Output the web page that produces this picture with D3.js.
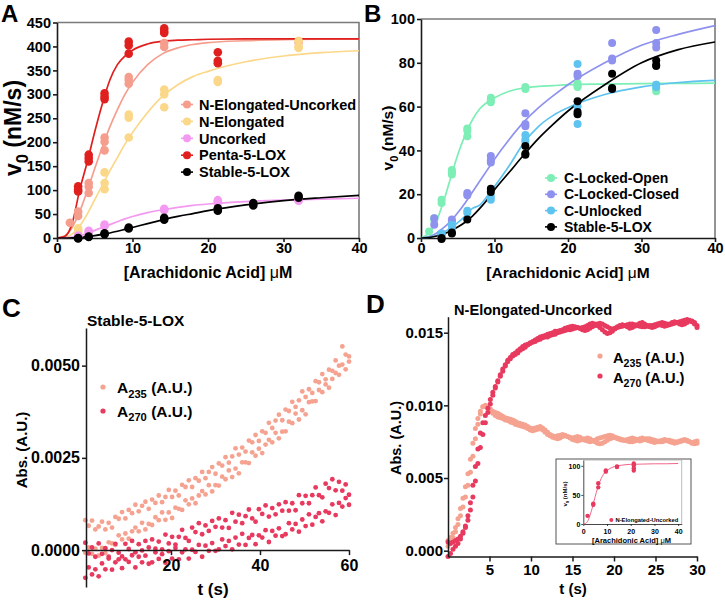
<!DOCTYPE html>
<html>
<head>
<meta charset="utf-8">
<script src="https://cdn.jsdelivr.net/npm/d3@7"></script>
<style>
body { margin: 0; background: #fff; }
</style>
</head>
<body>
<div id="fig"></div>
<script>
/*
Four panel enzyme kinetics figure: saturation curves (A, B)
and stopped-flow absorbance traces (C, D, inset)
*/

// ---------- data ----------
// substrate grid on which the fitted curves were read
var curveX = [0, 1, 2, 3, 4, 5, 6, 7, 8, 9, 10, 12, 14, 16, 18, 20, 25, 30, 35, 40];

// panel A, v0 (nM/s)
var aNames = ["N-Elongated-Uncorked", "N-Elongated", "Uncorked", "Penta-5-LOX", "Stable-5-LOX"];
var aColors = ["#f69e8d", "#fbd889", "#f499f1", "#e0201e", "#000000"];
var fitNEU = [0, 4, 22, 55, 98, 145, 190, 232, 268, 300, 325, 362, 385, 397, 404, 408, 412, 414, 415, 415];
var fitNE = [0, 1, 8, 25, 50, 80, 110, 140, 168, 196, 220, 262, 296, 320, 337, 348, 368, 380, 387, 391];
var fitUnc = [0, 0.5, 2, 5, 10, 16, 22, 28, 34, 40, 45, 53, 59, 64, 68, 71, 76, 79, 81, 83];
var fitPenta = [0, 3, 30, 100, 158, 222, 280, 330, 362, 380, 392, 405, 411, 413, 414, 415, 416, 416, 416, 416];
var fitStableA = [0, 0, 0.5, 1.5, 3, 5, 7.5, 10.5, 14, 18, 22, 30, 38, 45, 51, 57, 69, 78, 84, 89];
var ptsNEU = [[1.7,32],[2.8,55],[2.8,46],[4.2,115],[4.2,107],[4.2,94],[6.3,210],[6.3,201],[6.3,183],
  [9.5,336],[9.5,330],[9.5,322],[14.2,407],[14.2,399],[32,408]];
var ptsNE = [[2.8,20],[2.8,15],[2.8,12],[6.3,137],[6.3,115],[6.3,102],[9.5,258],[9.5,251],[9.5,210],
  [14.2,310],[14.2,300],[14.2,273],[21.3,330],[21.3,326],[32,412],[32,400],[32,397]];
var ptsUnc = [[2.8,5],[2.8,3],[4.2,15],[4.2,12],[6.3,28],[6.3,25],[14.2,61],[14.2,58],
  [21.3,79],[21.3,74],[32,81],[32,78]];
var ptsPenta = [[2.8,108],[2.8,101],[2.8,97],[4.2,174],[4.2,167],[4.2,160],[6.3,302],[6.3,295],[6.3,290],
  [9.5,410],[9.5,402],[9.5,385],[14.2,438],[14.2,432],[14.2,428],[21.3,388],[21.3,370],[21.3,365]];
var ptsStableA = [[2.8,0],[2.8,-1],[4.2,3],[4.2,2],[6.3,10],[6.3,8],[9.5,22],[9.5,20],[14.2,42],[14.2,38],
  [21.3,62],[21.3,57],[26,73],[26,68],[32,88],[32,84]];

// panel B, v0 (nM/s)
var bNames = ["C-Locked-Open", "C-Locked-Closed", "C-Unlocked", "Stable-5-LOX"];
var bColors = ["#7deeb5", "#8e92ee", "#5fc3f0", "#000000"];
var fitCLO = [0, 2, 7, 16, 27, 38, 47, 54, 59, 62, 64, 67, 68.5, 69.2, 69.6, 70, 70.3, 70.5, 70.6, 70.7];
var fitCLC = [0, 0.5, 2, 4.5, 7.5, 11.5, 16, 21, 26, 31, 36, 45, 53, 59.5, 65, 70, 80, 88, 93, 97];
var fitCU = [0, 0.3, 1, 2.5, 4.5, 7, 10, 13.5, 15, 19, 23.5, 33, 43.5, 51, 56, 59.5, 65.5, 69, 71, 72];
var fitStableB = [0, 0.2, 0.8, 1.8, 3.2, 5, 7.2, 10, 13.5, 17.5, 22, 30, 38, 45.5, 52, 58, 70, 80, 86, 89.5];
var ptsCLO = [[1.1,3],[1.8,9],[1.8,8],[2.8,17.5],[2.8,16],[4.2,31],[4.2,30],[4.2,29],[6.3,50],[6.3,49],[6.3,46.5],
  [9.5,64],[9.5,63],[9.5,62],[14.2,69],[14.2,68],[21.3,70.5],[21.3,69.5],[21.3,69],[32,70],[32,68],[32,67]];
var ptsCLC = [[1.8,9],[1.8,6],[2.8,2],[2.8,1.5],[4.2,8.5],[4.2,7.5],[6.3,20.5],[6.3,19.5],[9.5,37.5],[9.5,35.5],[9.5,34.5],
  [14.2,57],[14.2,52],[14.2,51],[21.3,75],[21.3,74],[26,89],[26,82],[26,81],[32,95],[32,89],[32,87]];
var ptsCU = [[2.8,2],[4.2,6],[4.2,5],[6.3,12.5],[6.3,11.5],[9.5,19],[9.5,17.5],[14.2,47],[14.2,45],[14.2,44],
  [21.3,79.5],[21.3,60],[21.3,52],[32,70],[32,69]];
var ptsStableB = [[2.8,0],[2.8,-0.5],[4.2,2.5],[4.2,2],[6.3,8.5],[9.5,22.5],[9.5,21],[14.2,42],[14.2,38.5],[14.2,38],
  [21.3,62.5],[21.3,57.5],[21.3,56.5],[26,75],[26,68.5],[26,68],[32,81],[32,79],[32,78.5]];

// panel C, Stable-5-LOX, absorbance in milli-AU, sampled every 0.75 s from 0.75 s
var C_T0 = 0.75, C_DT = 0.75;
var cA235a = [0.81,0.66,0.80,0.56,0.64,0.77,0.56,0.74,0.61,0.90, 0.85,1.03,0.86,1.09,1.00,1.23,1.05,1.20,1.31,1.12,
  1.37,1.28,1.48,1.30,1.44,1.63,1.44,1.61,1.48,1.77, 1.71,1.89,1.71,1.95,1.88,2.12,1.95,2.12,2.25,2.07,
  2.35,2.29,2.52,2.37,2.54,2.76,2.59,2.78,2.67,2.97, 2.92,3.12,2.96,3.22,3.18,3.45,3.31,3.51,3.67,3.52,
  3.81,3.77,4.02,3.88,4.06,4.30,4.15,4.36,4.26,4.58, 4.55,4.77,4.63,4.89,4.86,5.14,5.00,5.52,5.30,5.25];
var cA235b = [-0.07,0.07,-0.10,0.04,-0.15,0.06,-0.08,0.21,0.18,0.14, 0.40,0.29,0.45,0.31,0.51,0.61,0.51,0.74,0.56,0.71,
  0.68,0.89,0.81,1.02,0.82,1.02,0.87,1.15,1.12,1.09, 1.35,1.24,1.40,1.27,1.48,1.60,1.51,1.76,1.59,1.76,
  1.75,1.99,1.92,2.16,1.98,2.21,2.08,2.38,2.38,2.36, 2.65,2.56,2.75,2.63,2.86,2.99,2.92,3.18,3.03,3.21,
  3.22,3.48,3.44,3.70,3.54,3.79,3.68,4.01,4.03,4.04, 4.34,4.28,4.49,4.40,4.64,4.80,4.75,5.03,4.90,5.11];
var cA270a = [0.20,-0.09,0.07,-0.18,0.18,-0.10,0.05,-0.18,0.00,0.17, -0.07,-0.17,0.17,0.03,0.25,-0.06,0.16,-0.01,0.25,0.07,
  0.29,0.04,0.23,0.02,0.42,0.18,0.36,0.15,0.36,0.55, 0.33,0.25,0.61,0.49,0.73,0.43,0.67,0.52,0.79,0.63,
  0.86,0.61,0.81,0.60,1.01,0.77,0.96,0.73,0.92,1.10, 0.86,0.77,1.11,0.98,1.21,0.91,1.14,0.97,1.24,1.07,
  1.30,1.07,1.27,1.08,1.49,1.27,1.47,1.27,1.49,1.70, 1.49,1.43,1.80,1.68,1.92,1.62,1.85,1.61,1.78,1.50];
var cA270b = [-0.75,-0.47,-0.66,-0.52,-0.71,-0.36,-0.52,-0.23,-0.53,-0.33, -0.25,-0.49,-0.25,-0.32,-0.14,-0.47,-0.18,-0.33,-0.15,-0.37,
  -0.33,-0.06,-0.24,-0.11,-0.34,-0.03,-0.23,0.06,-0.25,-0.06, 0.02,-0.23,0.01,-0.05,0.14,-0.18,0.12,-0.02,0.19,-0.02,
  0.02,0.29,0.11,0.25,0.02,0.34,0.15,0.44,0.14,0.33, 0.41,0.16,0.40,0.34,0.54,0.22,0.52,0.39,0.59,0.38,
  0.43,0.73,0.56,0.71,0.50,0.83,0.65,0.97,0.69,0.90, 1.00,0.78,1.05,1.01,1.24,0.95,1.28,1.18,1.41,1.23];

// panel D, N-Elongated-Uncorked, milli-AU, sampled every 0.3 s from 0 s
var D_T0 = 0, D_DT = 0.3;
var dA270a = [-0.4,-0.2,0.1,0.3,0.5,0.8,1.2,1.7,2.4,3.3, 4.5,5.8,7.0,8.1,8.8,9.3,9.8,10.4,10.9,11.3,
  11.7,12.1,12.5,12.8,13.1,13.2,13.4,13.5,13.6,13.8, 13.9,14.0,14.15,14.25,14.35,14.4,14.5,14.55,14.65,14.7,
  14.7,14.8,14.85,14.9,15.0,15.05,15.1,15.15,15.2,15.2, 15.25,15.3,15.35,15.3,15.2,15.15,15.2,15.3,15.4,15.5,
  15.6,15.65,15.6,15.5,15.4,15.3,15.25,15.3,15.35,15.4, 15.45,15.5,15.55,15.6,15.6,15.55,15.5,15.45,15.4,15.4,
  15.45,15.5,15.5,15.55,15.6,15.65,15.7,15.65,15.6,15.55, 15.6,15.65,15.7,15.75,15.8,15.85,15.9,15.85,15.8,15.7, 15.5];
var dA270b = [0.6,0.5,0.6,0.7,0.8,1.0,1.3,1.6,2.1,2.8, 3.7,4.8,6.0,7.1,8.0,8.8,9.5,10.1,10.7,11.2,
  11.6,12.0,12.35,12.7,13.0,13.3,13.5,13.6,13.75,13.9, 14.05,14.15,14.2,14.3,14.4,14.5,14.6,14.7,14.75,14.8,
  14.9,14.95,15.0,15.1,15.1,15.15,15.2,15.3,15.35,15.4, 15.45,15.4,15.35,15.3,15.35,15.4,15.5,15.6,15.65,15.6,
  15.5,15.35,15.2,15.05,14.95,15.0,15.1,15.25,15.4,15.5, 15.55,15.5,15.4,15.3,15.35,15.45,15.55,15.65,15.7,15.6,
  15.5,15.4,15.35,15.4,15.5,15.55,15.5,15.45,15.5,15.6, 15.7,15.75,15.7,15.6,15.55,15.6,15.7,15.8,15.75,15.6, 15.35];
var dA235a = [0.3,0.6,0.9,1.3,1.8,2.4,3.0,3.7,4.5,5.4, 6.5,7.7,8.7,9.4,9.9,10.0,9.9,9.75,9.6,9.5,
  9.45,9.35,9.25,9.15,9.1,9.05,9.0,8.9,8.8,8.75, 8.7,8.65,8.55,8.45,8.4,8.45,8.5,8.55,8.45,8.3,
  8.15,8.0,7.9,7.85,7.9,7.95,8.0,7.95,7.85,7.8, 7.75,7.8,7.85,7.8,7.7,7.6,7.55,7.5,7.55,7.6,
  7.7,7.75,7.8,7.85,7.9,7.95,7.9,7.8,7.7,7.65, 7.6,7.6,7.65,7.7,7.75,7.7,7.6,7.55,7.6,7.65,
  7.7,7.7,7.65,7.6,7.55,7.5,7.5,7.55,7.6,7.6, 7.55,7.5,7.5,7.55,7.6,7.65,7.6,7.5,7.4,7.35, 7.4];
var dA235b = [0.7,0.9,1.2,1.6,2.2,2.9,3.6,4.4,5.3,6.3, 7.4,8.4,9.1,9.6,9.9,9.95,9.8,9.6,9.45,9.3,
  9.2,9.15,9.1,9.0,8.95,8.85,8.8,8.7,8.65,8.6, 8.55,8.5,8.4,8.3,8.25,8.3,8.35,8.4,8.3,8.15,
  8.0,7.9,7.8,7.75,7.7,7.75,7.85,7.9,7.85,7.75, 7.65,7.6,7.55,7.6,7.65,7.7,7.75,7.7,7.6,7.5,
  7.4,7.35,7.4,7.5,7.6,7.7,7.75,7.8,7.75,7.7, 7.65,7.6,7.55,7.5,7.5,7.55,7.65,7.7,7.75,7.7,
  7.6,7.55,7.5,7.45,7.5,7.55,7.6,7.65,7.6,7.5, 7.45,7.4,7.45,7.5,7.55,7.6,7.55,7.5,7.45,7.5, 7.55];

// inset of D, v0 (nM/s)
var fitInset = [0, 1, 6, 17, 31, 47, 61, 73, 82, 88, 92, 97, 99.5, 101, 102, 102.5, 103, 103.5, 103.5, 104];
var ptsInset = [[1.8,14],[4.2,35],[4.2,33],[6.3,70],[6.3,63],[9.5,92],[9.5,90],[14.2,99],[14.2,98],
  [21.3,104],[21.3,101],[21.3,96],[21.3,92]];

var C235 = "#f5a390", C270 = "#e8395f";
var FONT = '"Liberation Sans", Arial, Helvetica, sans-serif';

// ---------- helpers ----------
var svg = d3.select("#fig").append("svg")
  .attr("width", 725)
  .attr("height", 600)
  .style("font-family", FONT)
  .style("font-weight", "bold");

function styleAxis(sel, fs, sw) {
  sel.attr("font-family", FONT).attr("font-size", fs).attr("font-weight", "bold");
  sel.select(".domain").attr("stroke", "#1a1a1a").attr("stroke-width", sw || 1.5);
  sel.selectAll(".tick line").attr("stroke", "#1a1a1a").attr("stroke-width", sw || 1.5);
  sel.selectAll(".tick text").attr("fill", "#000");
  return sel;
}

// parts: [text, kind] where kind is "sub", "mu" or undefined
function rich(sel, parts, fs) {
  var shift = 0;
  parts.forEach(function(p) {
    var ts = sel.append("tspan").text(p[0]);
    if (p[1] === "sub") {
      shift = fs * 0.3;
      ts.attr("font-size", fs * 0.72).attr("dy", shift);
    } else {
      if (shift) { ts.attr("dy", -shift); shift = 0; }
      if (p[1] === "mu") ts.attr("font-weight", "normal");
    }
  });
  return sel;
}

function label(x, y, fs, parts, anchor, rot) {
  var t = svg.append("text")
    .attr("font-size", fs)
    .attr("fill", "#000")
    .attr("text-anchor", anchor || "start");
  if (rot) t.attr("transform", "translate(" + x + "," + y + ") rotate(-90)");
  else t.attr("x", x).attr("y", y);
  return rich(t, parts, fs);
}

var aaTitle = [["[Arachidonic Acid] "], ["\u03bc", "mu"], ["M"]];
var v0Title = [["v"], ["0", "sub"], [" (nM/s)"]];

function fitPanel(o) {
  var g = svg.append("g");
  var x = d3.scaleLinear().domain([0, o.xmax]).range([o.x0, o.x1]);
  var y = d3.scaleLinear().domain([0, o.ymax]).range([o.y0, o.y1]);

  g.append("path")
    .attr("d", "M" + x(0) + "," + y(o.ymax) + "H" + x(o.xmax) + "V" + y(0))
    .attr("fill", "none")
    .attr("stroke", o.frame)
    .attr("stroke-width", o.sw);

  styleAxis(g.append("g")
    .attr("transform", "translate(0," + y(0) + ")")
    .call(d3.axisBottom(x).tickValues([0, 10, 20, 30, 40]).tickSize(o.ts).tickSizeOuter(0).tickPadding(o.xpad)), o.fs, o.sw);
  styleAxis(g.append("g")
    .attr("transform", "translate(" + x(0) + ",0)")
    .call(d3.axisLeft(y).tickValues(o.yticks).tickSize(o.ts).tickSizeOuter(0).tickPadding(o.ypad)), o.fs, o.sw);

  var line = d3.line()
    .x(function(d) { return x(d[0]); })
    .y(function(d) { return y(d[1]); })
    .curve(d3.curveMonotoneX);

  o.series.forEach(function(s) {
    g.append("path")
      .datum(d3.zip(curveX, s.fit))
      .attr("fill", "none")
      .attr("stroke", s.line || s.color)
      .attr("stroke-width", o.lw)
      .attr("d", line);
  });
  o.series.forEach(function(s) {
    g.selectAll(null)
      .data(s.pts)
      .enter().append("circle")
      .attr("cx", function(d) { return x(d[0]); })
      .attr("cy", function(d) { return y(d[1]); })
      .attr("r", o.r)
      .attr("fill", s.color);
  });
  return g;
}

function legendRows(names, colors, xs, ys, fs, r) {
  names.forEach(function(n, i) {
    svg.append("line")
      .attr("x1", xs[0]).attr("x2", xs[2])
      .attr("y1", ys[i]).attr("y2", ys[i])
      .attr("stroke", colors[i]).attr("stroke-width", 1.6);
    svg.append("circle")
      .attr("cx", xs[1]).attr("cy", ys[i]).attr("r", r)
      .attr("fill", colors[i]);
    svg.append("text")
      .attr("x", xs[3]).attr("y", ys[i]).attr("dy", "0.36em")
      .attr("font-size", fs)
      .text(n);
  });
}

function dots(g, x, y, t0, dt, vals, color, r) {
  g.selectAll(null)
    .data(vals)
    .enter().append("circle")
    .attr("cx", function(d, i) { return x(t0 + i * dt); })
    .attr("cy", function(d) { return y(d); })
    .attr("r", r)
    .attr("fill", color);
}

// ---------- panel A ----------
fitPanel({
  x0: 57, x1: 359, y0: 238, y1: 22.5, xmax: 40, ymax: 450,
  yticks: d3.range(0, 451, 50), fs: 14.5, ts: 4, xpad: 1, ypad: 2, sw: 1.6,
  frame: "#7a7a7a", lw: 1.7, r: 4.3,
  series: [
    {fit: fitNEU, pts: ptsNEU, color: aColors[0]},
    {fit: fitNE, pts: ptsNE, color: aColors[1]},
    {fit: fitUnc, pts: ptsUnc, color: aColors[2]},
    {fit: fitPenta, pts: ptsPenta, color: aColors[3]},
    {fit: fitStableA, pts: ptsStableA, color: aColors[4]}
  ]
});
legendRows(aNames, aColors, [181, 187, 193, 199], [104.5, 121.4, 138.3, 155.2, 172.1], 14.5, 4);
label(208, 278, 16, aaTitle, "middle");
label(21, 128, 23, v0Title, "middle", true);
svg.append("text").attr("x", 1).attr("y", 22).attr("font-size", 24).text("A");

// ---------- panel B ----------
fitPanel({
  x0: 421, x1: 715, y0: 238, y1: 19, xmax: 40, ymax: 100,
  yticks: d3.range(0, 101, 20), fs: 14.5, ts: 4, xpad: 1, ypad: 2, sw: 1.6,
  frame: "#7a7a7a", lw: 1.7, r: 4,
  series: [
    {fit: fitCLO, pts: ptsCLO, color: bColors[0]},
    {fit: fitCLC, pts: ptsCLC, color: bColors[1]},
    {fit: fitCU, pts: ptsCU, color: bColors[2]},
    {fit: fitStableB, pts: ptsStableB, color: bColors[3]}
  ]
});
legendRows(bNames, bColors, [545, 551, 557, 564], [178, 194.3, 210.6, 226.9], 14, 4);
label(568, 278, 15.5, aaTitle, "middle");
label(393, 138, 15.5, v0Title, "middle", true);
svg.append("text").attr("x", 364).attr("y", 22).attr("font-size", 24).text("B");

// ---------- panel C ----------
(function() {
  var g = svg.append("g");
  var x = d3.scaleLinear().domain([0.9, 60]).range([86, 349]);
  var y = d3.scaleLinear().domain([-1, 6.02]).range([587, 328]);
  var fmt = function(d) { return (d / 1000).toFixed(4); };

  dots(g, x, y, C_T0, C_DT, cA235a, C235, 2.4);
  dots(g, x, y, C_T0, C_DT, cA235b, C235, 2.4);
  dots(g, x, y, C_T0, C_DT, cA270a, C270, 2.4);
  dots(g, x, y, C_T0, C_DT, cA270b, C270, 2.4);

  styleAxis(g.append("g")
    .attr("transform", "translate(0," + y(0) + ")")
    .call(d3.axisBottom(x).tickValues([20, 40, 60]).tickSize(5).tickSizeOuter(0).tickPadding(5)), 16, 1.5);
  styleAxis(g.append("g")
    .attr("transform", "translate(" + x(0.9) + ",0)")
    .call(d3.axisLeft(y).tickValues([0, 2.5, 5]).tickFormat(fmt).tickSize(4).tickSizeOuter(0).tickPadding(2)), 16, 1.5);

  svg.append("circle").attr("cx", 103).attr("cy", 387).attr("r", 2.6).attr("fill", C235);
  svg.append("circle").attr("cx", 103).attr("cy", 411).attr("r", 2.6).attr("fill", C270);
  label(117, 393, 15.5, [["A"], ["235", "sub"], [" (A.U.)"]]);
  label(117, 416.5, 15.5, [["A"], ["270", "sub"], [" (A.U.)"]]);
  label(87, 326, 15.5, [["Stable-5-LOX"]]);
  label(213, 595, 17, [["t (s)"]], "middle");
  label(27, 450, 15, [["Abs. (A.U.)"]], "middle", true);
  svg.append("text").attr("x", 2).attr("y", 317).attr("font-size", 26).text("C");
})();

// ---------- panel D ----------
(function() {
  var g = svg.append("g");
  var x = d3.scaleLinear().domain([0, 30]).range([448, 697]);
  var y = d3.scaleLinear().domain([-0.4, 16.1]).range([556.5, 316.7]);
  var fmt = function(d) { return (d / 1000).toFixed(3); };

  dots(g, x, y, D_T0, D_DT, dA235a, C235, 2.5);
  dots(g, x, y, D_T0, D_DT, dA235b, C235, 2.5);
  dots(g, x, y, D_T0, D_DT, dA270a, C270, 2.5);
  dots(g, x, y, D_T0, D_DT, dA270b, C270, 2.5);

  styleAxis(g.append("g")
    .attr("transform", "translate(0," + y(-0.4) + ")")
    .call(d3.axisBottom(x).tickValues([5, 10, 15, 20, 25, 30]).tickSize(5).tickSizeOuter(0).tickPadding(3)), 15, 1.5);
  styleAxis(g.append("g")
    .attr("transform", "translate(" + x(0) + ",0)")
    .call(d3.axisLeft(y).tickValues([0, 5, 10, 15]).tickFormat(fmt).tickSize(4).tickSizeOuter(0).tickPadding(1)), 15, 1.5);

  svg.append("circle").attr("cx", 600).attr("cy", 356).attr("r", 2.6).attr("fill", C235);
  svg.append("circle").attr("cx", 600).attr("cy", 376).attr("r", 2.6).attr("fill", C270);
  label(613, 363, 14.7, [["A"], ["235", "sub"], [" (A.U.)"]]);
  label(613, 383, 14.7, [["A"], ["270", "sub"], [" (A.U.)"]]);
  label(454, 315, 14.6, [["N-Elongated-Uncorked"]]);
  label(573, 594, 15, [["t (s)"]], "middle");
  label(401, 438, 14.5, [["Abs. (A.U.)"]], "middle", true);
  svg.append("text").attr("x", 366).attr("y", 313).attr("font-size", 26).text("D");
})();

// ---------- inset ----------
svg.append("rect")
  .attr("x", 556).attr("y", 459).attr("width", 135).attr("height", 85)
  .attr("fill", "#fff").attr("stroke", "#555").attr("stroke-width", 1);
fitPanel({
  x0: 583.3, x1: 681.7, y0: 524, y1: 460, xmax: 41.5, ymax: 110,
  yticks: [0, 50, 100], fs: 7, ts: 2, xpad: 3, ypad: 1, sw: 0.8,
  frame: "#aaa", lw: 1, r: 2.2,
  series: [{fit: fitInset, pts: ptsInset, color: C270, line: "#f0668a"}]
});
svg.append("circle").attr("cx", 611.3).attr("cy", 520).attr("r", 2).attr("fill", C270);
label(615.5, 522, 5.8, [["N-Elongated-Uncorked"]]);
label(631.5, 543, 7.5, aaTitle, "middle");
label(567, 494, 6, v0Title, "middle", true);
</script>
</body>
</html>
